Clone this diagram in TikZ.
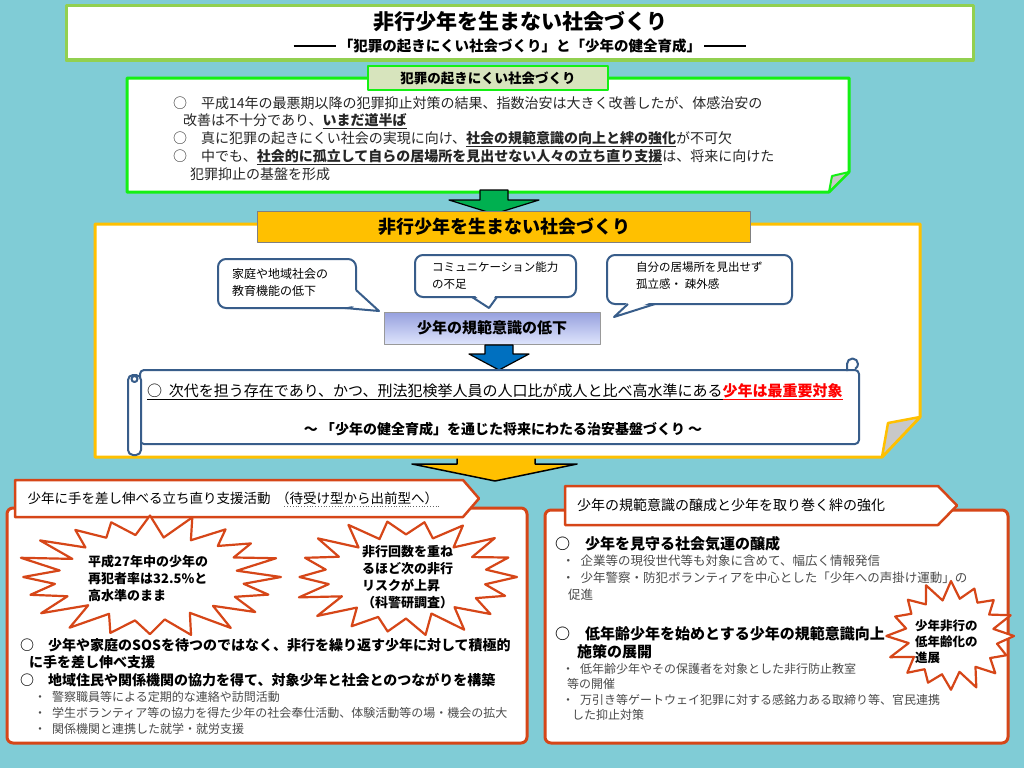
\documentclass[tikz,border=0pt]{standalone}
\usepackage{fontspec}
\setmainfont{Noto Sans CJK JP}
\newcommand\setfs[2]{\fontsize{#1}{#2}\selectfont}
\definecolor{bgc}{RGB}{128,204,214}
\definecolor{titlegreen}{RGB}{146,208,80}
\definecolor{brightgreen}{RGB}{20,240,20}
\definecolor{labelgreen}{RGB}{215,228,189}
\definecolor{arrowgreen}{RGB}{0,176,80}
\definecolor{gold}{RGB}{255,192,0}
\definecolor{bubblec}{RGB}{56,93,138}
\definecolor{arrowblue}{RGB}{0,112,192}
\definecolor{redc}{RGB}{214,70,24}
\definecolor{foldgray}{RGB}{200,200,200}
\definecolor{graytext}{RGB}{75,75,75}
\definecolor{normtop}{RGB}{150,160,222}
\definecolor{normbot}{RGB}{222,228,252}
\newcommand\burst[6]{%
  \draw[burstline] plot[samples at={0,...,#5}]
  ({#1+#3*(1-(1-#6)*mod(\x,2))*(1+0.05*sin(\x*137))*cos(\x*360/(#5+1))},
   {#2+#4*(1-(1-#6)*mod(\x,2))*(1+0.05*sin(\x*137))*sin(\x*360/(#5+1))}) -- cycle;}
\newcommand\longdash{\rule[0.32em]{42pt}{1.6pt}}
\begin{document}
\begin{tikzpicture}[x=1pt,y=-1pt,line join=round,
  txt/.style={inner sep=0,anchor=north west,align=left},
  bubble/.style={draw=bubblec,line width=2,fill=white,rounded corners=8},
  bubbleedge/.style={draw=bubblec,line width=2},
  burstline/.style={draw=redc,line width=2.2,fill=white},
  panel/.style={draw=redc,line width=3,fill=white,rounded corners=6},
  pent/.style={draw=redc,line width=2.5,fill=white},
  scrollline/.style={draw=bubblec,line width=2},
  blockarrow/.style={draw=black,line width=1.2}]
\useasboundingbox (0,0) rectangle (1024,768);
\fill[bgc] (0,0) rectangle (1024,768);

% ---------- title ----------
\draw[draw=titlegreen,line width=3,fill=white] (66,6) rectangle (973,60);
\node[font=\bfseries\setfs{21}{24}] (title) at (520,22) {非行少年を生まない社会づくり};
\node[font=\bfseries\setfs{14.5}{17}] (subtitle) at (520,46) {\longdash\ 「犯罪の起きにくい社会づくり」と「少年の健全育成」\ \longdash};

% ---------- green box ----------
\draw[draw=brightgreen,line width=3,fill=white] (127,78) -- (849,78) -- (849,172) -- (829,192) -- (127,192) -- cycle;
\draw[draw=brightgreen,line width=2,fill=foldgray] (832,176) -- (849,172) -- (829,192) -- cycle;
\node[draw=brightgreen,line width=2.5,fill=labelgreen,minimum width=240pt,minimum height=24pt,inner sep=0,
  font=\bfseries\setfs{13.5}{16}] (lbl) at (488,78) {犯罪の起きにくい社会づくり};
\node[txt,font=\setfs{14}{17.8},text=black!85] (gtext) at (173,96) {%
○　平成14年の最悪期以降の犯罪抑止対策の結果、指数治安は大きく改善したが、体感治安の\\
\hspace{10pt}改善は不十分であり、\underline{\textbf{いまだ道半ば}}\\
○　真に犯罪の起きにくい社会の実現に向け、\underline{\textbf{社会の規範意識の向上と絆の強化}}が不可欠\\
○　中でも、\underline{\textbf{社会的に孤立して自らの居場所を見出せない人々の立ち直り支援}}は、将来に向けた\\
\hspace{17pt}犯罪抑止の基盤を形成};

% ---------- orange arrow (behind yellow box) ----------
\draw[blockarrow,fill=gold,line width=1.5] (457,457) -- (535,457) -- (535,464) -- (577,464) -- (495,481) -- (412,464) -- (457,464) -- cycle;

% ---------- yellow box ----------
\draw[draw=gold,line width=3,fill=white] (95,224) -- (920,224) -- (920,417) -- (882,457) -- (95,457) -- cycle;
\draw[draw=gold,line width=2.5,fill=foldgray] (888,423) -- (920,417) -- (882,457) -- cycle;

% green arrow
\draw[blockarrow,fill=arrowgreen] (480,190) -- (508,190) -- (508,200) -- (539,200) -- (494,214) -- (449,200) -- (480,200) -- cycle;
\node[draw=black!50,line width=0.8,fill=gold,minimum width=493pt,minimum height=31pt,inner sep=0,
  font=\bfseries\setfs{18}{20}] (hdr) at (504,227) {非行少年を生まない社会づくり};

% bubbles
\draw[bubble] (218,259) rectangle (356,308);
\fill[white] (353,288) -- (379,311) -- (344,305) -- cycle;
\draw[bubbleedge] (356,290) -- (379,311) -- (345,308);
\node[txt,font=\setfs{12}{17}] (b1) at (232,268) {家庭や地域社会の\\教育機能の低下};

\draw[bubble] (415,255) rectangle (576,297);
\fill[white] (473,294) -- (489,308) -- (496,294) -- cycle;
\draw[bubbleedge] (472,297) -- (489,308) -- (497,297);
\node[txt,font=\setfs{11.5}{17}] (b2) at (432,262) {コミュニケーション能力\\の不足};

\draw[bubble] (607,255) rectangle (792,304);
\fill[white] (629,301) -- (614,317) -- (654,301) -- cycle;
\draw[bubbleedge] (628,304) -- (614,317) -- (655,304);
\node[txt,font=\setfs{11.5}{17}] (b3) at (636,262) {自分の居場所を見出せず\\孤立感・\ 疎外感};

% norm box
\node[draw=black!40,line width=1,top color=normtop,bottom color=normbot,minimum width=216pt,minimum height=32pt,inner sep=0,
  font=\bfseries\setfs{15}{17}] (norm) at (492,328) {少年の規範意識の低下};
\draw[blockarrow,fill=arrowblue] (485,345) -- (513,345) -- (513,354) -- (529,354) -- (499,370) -- (469,354) -- (485,354) -- cycle;

% scroll
\draw[scrollline,fill=white,rounded corners=4] (140,370) rectangle (859,444);
\draw[scrollline] (847,371) -- (847,364) arc[start angle=180,end angle=420,radius=5.5];
\draw[scrollline,fill=white,rounded corners=5] (128,375) rectangle (141,455);
\draw[scrollline] (134.5,379) circle (3);
\node[anchor=west,inner sep=0,font=\setfs{15}{17}] (s1) at (147,392) {\underline{○\ \ 次代を担う存在であり、かつ、刑法犯検挙人員の人口比が成人と比べ高水準にある}\textcolor{red}{\underline{\textbf{少年は最重要対象}}}};
\node[font=\bfseries\setfs{14}{17}] (s2) at (503,429) {～\ 「少年の健全育成」を通じた将来にわたる治安基盤づくり\ ～};

% ---------- bottom left panel ----------
\draw[panel] (7,508) rectangle (527,743);
\draw[pent] (15,480) -- (463,480) -- (479,498.5) -- (463,517) -- (15,517) -- cycle;
\node[anchor=west,inner sep=1.5pt,font=\setfs{13.5}{16}] (hl1) at (26,498) {少年に手を差し伸べる立ち直り支援活動};
\node[anchor=west,inner sep=1.5pt,font=\setfs{13.5}{16}] (hl2) at ([xshift=2pt]hl1.east) {（待受け型から出前型へ）};
\draw[dotted,black!60,line width=0.8] ([xshift=10pt]hl2.south west) -- (hl2.south east);

\burst{150}{577}{131}{60}{39}{0.7}
\node[txt,font=\bfseries\setfs{13}{17}] (st1) at (88,555) {平成27年中の少年の\\再犯者率は32.5\%と\\高水準のまま};
\burst{406}{577}{111}{58}{35}{0.7}
\node[txt,font=\bfseries\setfs{13}{17}] (st2) at (362,545) {非行回数を重ね\\るほど次の非行\\リスクが上昇\\（科警研調査）};

\node[txt,font=\bfseries\setfs{14}{17.5}] (bl1) at (20,638) {○　少年や家庭のSOSを待つのではなく、非行を繰り返す少年に対して積極的\\
\hspace{9pt}に手を差し伸べ支援\\
○　地域住民や関係機関の協力を得て、対象少年と社会とのつながりを構築};
\node[txt,font=\setfs{12}{16},text=graytext] (bl2) at (34,691) {・\hspace{6pt}警察職員等による定期的な連絡や訪問活動\\
・\hspace{6pt}学生ボランティア等の協力を得た少年の社会奉仕活動、体験活動等の場・機会の拡大\\
・\hspace{6pt}関係機関と連携した就学・就労支援};

% ---------- bottom right panel ----------
\draw[panel] (545,510) rectangle (1008,743);
\draw[pent] (565,486) -- (938,486) -- (957,505.5) -- (938,525) -- (565,525) -- cycle;
\node[anchor=west,inner sep=0,font=\setfs{14}{16}] (hr) at (577,505) {少年の規範意識の醸成と少年を取り巻く絆の強化};

\node[anchor=west,inner sep=0,font=\bfseries\setfs{15}{17}] (r1) at (555,544) {○　少年を見守る社会気運の醸成};
\node[txt,font=\setfs{12.5}{17},text=graytext] (r2) at (562,555) {・\hspace{6pt}企業等の現役世代等も対象に含めて、幅広く情報発信\\
・\hspace{6pt}少年警察・防犯ボランティアを中心とした「少年への声掛け運動」の\\
\hspace{6pt}促進};

\burst{951}{636}{63}{53}{31}{0.72}
\node[txt,font=\bfseries\setfs{12.5}{16}] (st3) at (915,620) {少年非行の\\低年齢化の\\進展};

\node[txt,font=\bfseries\setfs{15}{18}] (r3) at (555,626) {○　低年齢少年を始めとする少年の規範意識向上\\
\hspace{22pt}施策の展開};
\node[txt,font=\setfs{12}{15.5},text=graytext] (r4) at (562,663) {・\hspace{6pt}低年齢少年やその保護者を対象とした非行防止教室\\
\hspace{5pt}等の開催\\
・\hspace{6pt}万引き等ゲートウェイ犯罪に対する感銘力ある取締り等、官民連携\\
\hspace{10pt}した抑止対策};
\end{tikzpicture}
\end{document}
